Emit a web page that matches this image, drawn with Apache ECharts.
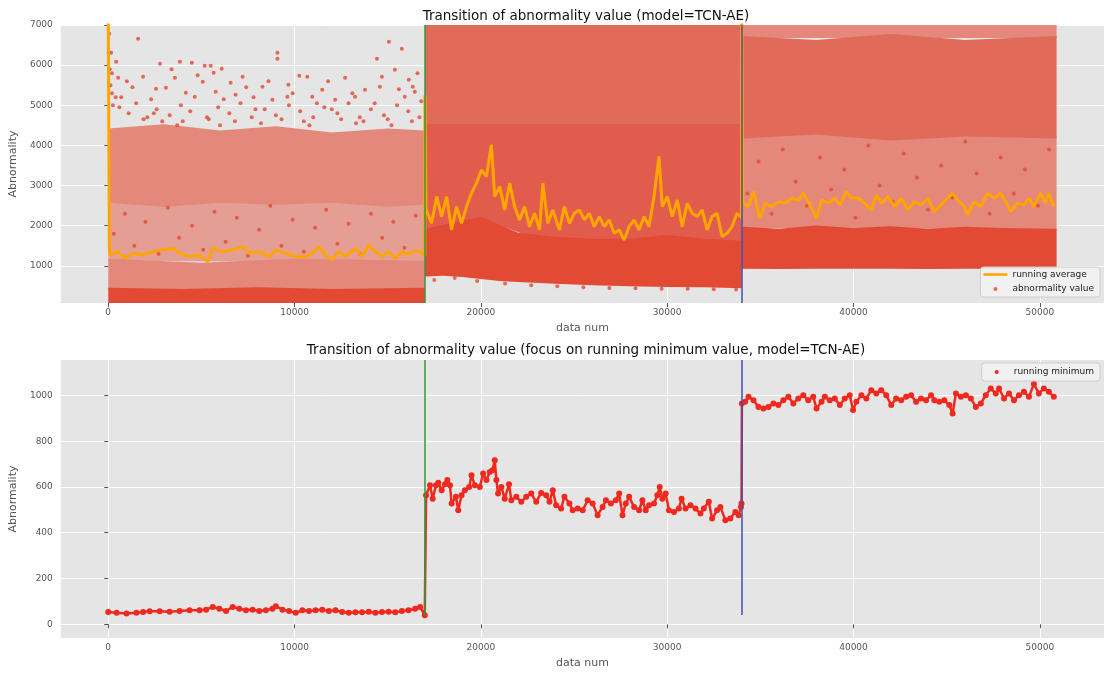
<!DOCTYPE html>
<html><head><meta charset="utf-8">
<script src="https://cdn.jsdelivr.net/npm/echarts@6/dist/echarts.min.js"></script>
<style>html,body{margin:0;padding:0;background:#fff}#c{width:1105px;height:675px}</style>
</head><body><div id="c"></div>
<script>
// ---------- axis ticks ----------
const xTicks = [0, 10000, 20000, 30000, 40000, 50000];
const yTicksTop = [1000, 2000, 3000, 4000, 5000, 6000, 7000];
const yTicksBottom = [0, 200, 400, 600, 800, 1000];
const changePoints = [17000, 34000];

// ---------- top: dense parts of the abnormality cloud, [x, low, high] ----------
const cloudSolid = [
  [[0,75,430],[4000,75,400],[8000,75,440],[12000,75,400],[17000,75,430]],
  [[17000,760,1900],[18000,780,2000],[19000,750,2100],[20000,700,2200],[21000,650,2000],[22000,620,1800],[24000,580,1700],[26000,540,1650],[28000,520,1650],[30000,500,1750],[32000,490,1650],[34000,470,1600]],
  [[34000,950,1950],[36000,945,1900],[38000,955,1980],[40000,950,1920],[42000,950,1960],[44000,945,1900],[46000,955,1950],[48000,950,1920],[50900,950,1900]]
];
const cloudDense = [
  [[17000,1900,4500],[20000,2200,4500],[23000,1700,4500],[34000,1600,4500]]
];
const cloudUpper = [
  [[17000,4500,7000],[34000,4500,7000]],
  [[34000,4200,6700],[38000,4300,6600],[42000,4150,6750],[46000,4250,6600],[50900,4200,6700]]
];
const cloudMedium = [
  [[0,430,1150],[5000,400,1050],[10000,440,1150],[17000,430,1100]],
  [[0,2600,4400],[3000,2500,4500],[6000,2600,4350],[9000,2550,4450],[12000,2600,4300],[15000,2500,4400],[17000,2550,4350]],
  [[34000,1950,4200],[38000,1980,4300],[42000,1960,4150],[46000,1950,4250],[50900,1900,4200]],
  [[34000,6700,7000],[50900,6700,7000]]
];
const cloudLight = [
  [[0,1150,2600],[17000,1100,2550]]
];
// ---------- top: individual abnormality values outside / inside the cloud ----------
const abnormalityPoints = [
  [20,6300],[53,6783],[80,5900],[120,5500],[160,6310],[200,5300],[250,5000],[427,6085],[534,5686],[1603,6658],[1870,5710],
  [2778,6035],[3846,6085],[4487,6060],[5182,5985],[5502,5985],[6090,5910],[5662,5810],[7212,5710],[6571,5560],
  [9081,6310],[9081,6160],[9669,5510],[10256,5735],[10684,5710],[12714,5686],[14423,6160],[15064,6585],[15759,6410],
  [15385,5885],[14690,5710],[16132,5635],[16346,5460],[2564,5410],[3098,5435],[3579,5686],[4167,5310],[4647,5210],
  [5075,5585],[5769,5335],[6838,5260],[8280,5460],[8814,5135],[9615,5210],[10951,5210],[11485,5385],[12179,5135],
  [13248,5210],[13782,5385],[14583,5460],[15919,5210],[16453,5335],
  [600,4950],[1100,4800],[1500,5050],[2100,4700],[2600,4900],[3300,4750],[3900,5000],[4400,4850],[5300,4700],
  [5900,4950],[6500,4800],[7100,5050],[7700,4700],[8400,4900],[9000,4750],[9700,5000],[10300,4850],[11000,4700],
  [11600,4950],[12300,4800],[12900,5050],[13500,4700],[14100,4900],[14800,4750],[15500,5000],[16100,4850],[16700,4700],
  [700,5200],[1300,5450],[1900,4650],[2300,5150],[2900,4600],[3400,5900],[4000,4600],[4800,5750],[5400,4650],
  [6200,5150],[6800,4600],[7400,5450],[7900,4900],[8600,5600],[9300,4650],[9900,5300],[10500,4600],[11200,5050],
  [11800,5600],[12500,4650],[13100,5300],[13700,4600],[14300,5050],[15000,4650],[15600,5400],[16300,4600],[16800,5100],
  [1000,5600],[3700,4500],[6000,4500],[8200,4550],[10800,4500],[13300,4550],[15200,4500],[16600,5800],[200,5800],
  [400,5200],[2450,4800],[7800,5200],[12000,4900],
  [300,1800],[900,2300],[1400,1500],[2000,2100],[2700,1300],[3200,2450],[3800,1700],[4500,2000],[5100,1400],
  [5700,2350],[6300,1600],[6900,2200],[7500,1250],[8100,1900],[8700,2500],[9300,1500],[9900,2150],[10500,1350],
  [11100,1950],[11700,2400],[12300,1550],[12900,2050],[13500,1300],[14100,2300],[14700,1700],[15300,2100],[15900,1450],[16500,2250],
  [34300,2800],[34900,3600],[35600,2300],[36200,3900],[36900,3100],[37500,2500],[38200,3700],[38800,2900],[39500,3400],
  [40100,2200],[40800,4000],[41400,3000],[42100,2600],[42700,3800],[43400,3200],[44000,2400],[44700,3500],[45300,2700],
  [46000,4100],[46600,3300],[47300,2300],[47900,3700],[48600,2800],[49200,3400],[49900,2500],[50500,3900],
  [17500,650],[18600,700],[19800,620],[21300,560],[22700,520],[24100,490],[25500,470],[26900,450],[28300,440],
  [29700,430],[31100,430],[32500,420],[33700,410]
];
// ---------- top: running average ----------
const runningAverage = [
  [0,7500],[60,1500],[90,1270],[535,1355],[891,1190],[1336,1315],[1871,1270],[2405,1355],[2939,1400],[3473,1440],
  [3830,1315],[4364,1230],[4898,1270],[5343,1105],[5610,1440],[6145,1355],[6679,1400],[7213,1480],[7570,1315],
  [8104,1355],[8638,1230],[8995,1400],[9529,1315],[10063,1230],[10597,1230],[10953,1315],[11310,1480],[11666,1270],
  [12022,1145],[12378,1355],[12735,1230],[13269,1440],[13625,1230],[13981,1520],[14338,1355],[14694,1230],[15050,1355],
  [15406,1190],[15762,1355],[16119,1270],[16475,1400],[16831,1315],[16990,1250],
  [17000,5250],[17060,2400],[17094,2390],[17361,2060],[17629,2725],[17896,2227],[18163,2725],[18430,1895],[18697,2476],
  [18964,2060],[19232,2476],[19499,2810],[19766,3060],[20033,3390],[20300,3225],[20567,4015],[20745,2725],[21013,2975],
  [21280,2394],[21547,3060],[21814,2476],[22081,2145],[22348,2476],[22615,1977],[22883,2310],[23150,1895],[23328,3060],
  [23595,2060],[23862,2394],[24218,1895],[24485,2476],[24753,2060],[25020,2310],[25287,2394],[25554,2145],[25821,2310],
  [26088,1977],[26356,2227],[26623,1977],[26890,2145],[27157,1810],[27424,1895],[27691,1645],[27958,1977],[28226,2145],
  [28493,1895],[28760,2227],[29027,1977],[29294,2725],[29561,3725],[29739,2476],[30006,2725],[30274,2227],[30541,2640],
  [30808,1977],[31075,2560],[31342,2310],[31609,2227],[31877,2394],[32144,1895],[32411,2227],[32678,2310],[32945,1730],
  [33212,1810],[33480,1977],[33747,2310],[33990,2200],
  [34000,7500],[34060,2700],[34099,2560],[34366,2476],[34634,2850],[34901,2310],[34990,2185],[35257,2560],[35613,2476],
  [35969,2600],[36326,2560],[36682,2685],[37038,2640],[37305,2810],[37661,2520],[38017,2185],[38285,2640],[38641,2560],
  [38997,2685],[39264,2520],[39620,2850],[39888,2685],[40244,2685],[40600,2560],[40956,2394],[41223,2770],[41490,2560],
  [41847,2725],[42203,2476],[42559,2685],[42915,2394],[43271,2600],[43628,2520],[43984,2685],[44340,2350],[44696,2520],
  [45052,2685],[45320,2810],[45587,2640],[45943,2476],[46121,2270],[46477,2600],[46833,2476],[47190,2810],[47546,2685],
  [47902,2810],[48169,2600],[48436,2350],[48793,2560],[49149,2520],[49416,2685],[49683,2476],[50039,2810],[50306,2560],
  [50484,2810],[50751,2476]
];
// ---------- bottom: running minimum ----------
const runningMinimum = [
  [0,54],[446,50],[980,47],[1514,50],[1871,54],[2227,57],[2761,57],[3295,55],[3830,58],[4364,61],[4898,61],[5254,64],
  [5610,76],[5967,68],[6323,58],[6679,76],[7035,68],[7392,61],[7748,64],[8104,58],[8460,61],[8816,68],[8995,79],
  [9351,64],[9707,58],[10063,50],[10419,61],[10776,58],[11132,61],[11488,64],[11844,58],[12200,61],[12557,54],
  [12913,50],[13269,52],[13625,52],[13981,55],[14338,50],[14694,54],[15050,55],[15406,52],[15762,58],[16119,61],
  [16475,68],[16742,76],[16990,39],
  [17059,564],[17272,608],[17415,549],[17593,608],[17718,618],[17896,586],[18074,612],[18199,630],[18341,608],
  [18430,528],[18662,557],[18786,498],[18964,564],[19142,586],[19374,600],[19499,651],[19677,608],[19944,600],
  [20122,659],[20300,630],[20478,666],[20621,673],[20745,717],[20834,630],[20923,571],[21102,600],[21280,549],
  [21511,612],[21636,542],[21903,557],[22170,535],[22437,557],[22704,571],[22972,535],[23239,574],[23506,564],
  [23684,535],[23862,586],[24040,520],[24307,506],[24485,557],[24753,528],[24931,498],[25198,506],[25465,498],
  [25732,542],[25999,528],[26266,477],[26534,513],[26712,542],[26979,528],[27246,542],[27424,571],[27602,477],
  [27780,528],[27958,557],[28226,513],[28493,498],[28671,542],[28849,498],[29027,520],[29294,528],[29472,564],
  [29597,600],[29739,549],[29918,571],[30096,498],[30363,491],[30630,506],[30772,549],[30986,506],[31253,520],
  [31520,506],[31788,484],[31966,506],[32233,535],[32411,462],[32678,498],[32856,513],[33123,455],[33390,462],
  [33658,491],[33836,477],[33960,513],[33990,528],
  [34010,965],[34188,972],[34366,994],[34634,979],[34901,950],[35168,943],[35435,950],[35702,965],[35969,958],
  [36236,979],[36504,994],[36771,965],[37038,987],[37305,1001],[37572,979],[37839,994],[38017,943],[38285,972],
  [38463,994],[38730,979],[38997,987],[39264,958],[39531,987],[39798,1001],[39977,936],[40155,972],[40422,1001],
  [40689,987],[40956,1023],[41223,1009],[41490,1023],[41758,1001],[42025,958],[42292,987],[42559,979],[42826,994],
  [43093,1001],[43360,972],[43628,987],[43895,979],[44162,1001],[44340,979],[44607,972],[44874,979],[45141,958],
  [45320,921],[45498,1009],[45765,994],[46032,1001],[46299,987],[46566,950],[46833,965],[47100,1001],[47368,1030],
  [47635,1009],[47813,1030],[48080,987],[48347,1009],[48614,979],[48881,1001],[49149,1016],[49416,994],[49683,1050],
  [49950,1009],[50217,1030],[50484,1016],[50751,994]
];

// ---------- chart ----------
const FONT = 'DejaVu Sans';
const RED = '#E24A33', ORANGE = '#FFA500', MINRED = '#F0281E', GREEN = '#2E9B3A', BLUE = '#3F4FB5';

function band(segs, fill, z) {
  const flat = [];
  segs.forEach(s => s.forEach(p => flat.push(p)));
  return {
    type: 'custom', xAxisIndex: 0, yAxisIndex: 0, z: z, silent: true, clip: true,
    data: flat, encode: { x: 0, y: [1, 2] },
    renderItem: function (params, api) {
      if (params.dataIndex !== 0) return null;
      return {
        type: 'group',
        children: segs.map(seg => {
          const top = seg.map(p => { const c = api.coord([p[0], p[2]]); return [c[0], c[1] - 1]; });
          const bot = seg.slice().reverse().map(p => { const c = api.coord([p[0], p[1]]); return [c[0], c[1] + 1]; });
          return { type: 'polygon', shape: { points: top.concat(bot) }, style: { fill: fill } };
        })
      };
    }
  };
}

function xAxis(gi) {
  return {
    type: 'value', gridIndex: gi, min: -2545, max: 53445,
    axisLine: { show: false },
    axisTick: { show: true, length: 4, lineStyle: { color: '#555' }, customValues: xTicks },
    axisLabel: { customValues: xTicks, color: '#555', fontSize: 9, fontFamily: FONT, margin: 5, formatter: v => String(v) },
    splitLine: { show: true, lineStyle: { color: '#fff', width: 1 } },
    name: 'data num', nameLocation: 'middle', nameGap: 20,
    nameTextStyle: { color: '#555', fontSize: 11, fontFamily: FONT }
  };
}
function yAxis(gi, min, max, ticks) {
  return {
    type: 'value', gridIndex: gi, min: min, max: max,
    axisLine: { show: false },
    axisTick: { show: true, length: 4, lineStyle: { color: '#555' }, customValues: ticks },
    axisLabel: { customValues: ticks, color: '#555', fontSize: 9, fontFamily: FONT, margin: 8, formatter: v => String(v) },
    splitLine: { show: true, lineStyle: { color: '#fff', width: 1 } },
    name: 'Abnormality', nameLocation: 'middle', nameGap: 36,
    nameTextStyle: { color: '#555', fontSize: 11, fontFamily: FONT }
  };
}

const dotIcon = 'path://M0,0M24,10M10,5a2,2 0 1,0 4,0a2,2 0 1,0 -4,0z';
const lineIcon = 'path://M0,3.7h24v2.6h-24z';

const option = {
  animation: false,
  backgroundColor: '#fff',
  textStyle: { fontFamily: FONT },
  title: [
    { text: 'Transition of abnormality value (model=TCN-AE)', left: 581, textAlign: 'center', top: 4,
      textStyle: { fontSize: 13.5, fontWeight: 'normal', color: '#111', fontFamily: FONT } },
    { text: 'Transition of abnormality value (focus on running minimum value, model=TCN-AE)', left: 581, textAlign: 'center', top: 338,
      textStyle: { fontSize: 13.5, fontWeight: 'normal', color: '#111', fontFamily: FONT } }
  ],
  grid: [
    { left: 58, top: 25, width: 1046, height: 278, show: true, backgroundColor: '#E5E5E5', borderWidth: 0 },
    { left: 58, top: 360, width: 1046, height: 278, show: true, backgroundColor: '#E5E5E5', borderWidth: 0 }
  ],
  xAxis: [xAxis(0), xAxis(1)],
  yAxis: [yAxis(0, 75, 7000, yTicksTop), yAxis(1, -60, 1155, yTicksBottom)],
  legend: [
    { orient: 'vertical', right: 5, top: 267, itemWidth: 24, itemHeight: 10, itemGap: 5,
      padding: [3, 6, 3, 3], backgroundColor: 'rgba(242,242,242,0.9)', borderColor: '#cccccc', borderWidth: 1, borderRadius: 3,
      textStyle: { fontSize: 9, color: '#222', fontFamily: FONT },
      data: [{ name: 'running average', icon: lineIcon }, { name: 'abnormality value', icon: dotIcon }] },
    { orient: 'vertical', right: 5, top: 363, itemWidth: 24, itemHeight: 10, itemGap: 5,
      padding: [4, 6, 4, 3], backgroundColor: 'rgba(242,242,242,0.9)', borderColor: '#cccccc', borderWidth: 1, borderRadius: 3,
      textStyle: { fontSize: 9, color: '#222', fontFamily: FONT },
      data: [{ name: 'running minimum', icon: dotIcon }] }
  ],
  series: [
    band(cloudLight, 'rgb(228,158,148)', 1),
    band(cloudMedium, 'rgb(227,136,122)', 1),
    band(cloudUpper, 'rgb(226,106,88)', 1),
    band(cloudDense, 'rgb(226,92,77)', 1),
    band(cloudSolid, RED, 1),
    { name: 'abnormality value', type: 'scatter', xAxisIndex: 0, yAxisIndex: 0, z: 2, silent: true,
      symbolSize: 4, itemStyle: { color: RED }, data: abnormalityPoints },
    { name: 'running average', type: 'line', xAxisIndex: 0, yAxisIndex: 0, z: 3, silent: true,
      showSymbol: false, symbol: 'none', clip: true, lineStyle: { color: ORANGE, width: 3 }, itemStyle: { color: ORANGE },
      data: runningAverage,
      markLine: { silent: true, symbol: 'none', label: { show: false }, animation: false,
        data: [{ xAxis: changePoints[0], lineStyle: { color: GREEN, width: 1.5, type: 'solid' } },
               { xAxis: changePoints[1], lineStyle: { color: BLUE, width: 1.5, type: 'solid' } }] } },
    { name: 'running minimum', type: 'line', xAxisIndex: 1, yAxisIndex: 1, z: 3, silent: true,
      symbol: 'circle', symbolSize: 6, showSymbol: true, showAllSymbol: true,
      lineStyle: { color: MINRED, width: 2.5 }, itemStyle: { color: MINRED },
      data: runningMinimum,
      markLine: { silent: true, symbol: 'none', label: { show: false }, animation: false,
        data: [[{ coord: [changePoints[0], 37], lineStyle: { color: GREEN, width: 1.5, type: 'solid' } }, { coord: [changePoints[0], 1155] }],
               [{ coord: [changePoints[1], 40], lineStyle: { color: BLUE, width: 1.5, type: 'solid' } }, { coord: [changePoints[1], 1155] }]] } }
  ]
};
const chart = echarts.init(document.getElementById('c'));
chart.setOption(option);
</script>
</body></html>
